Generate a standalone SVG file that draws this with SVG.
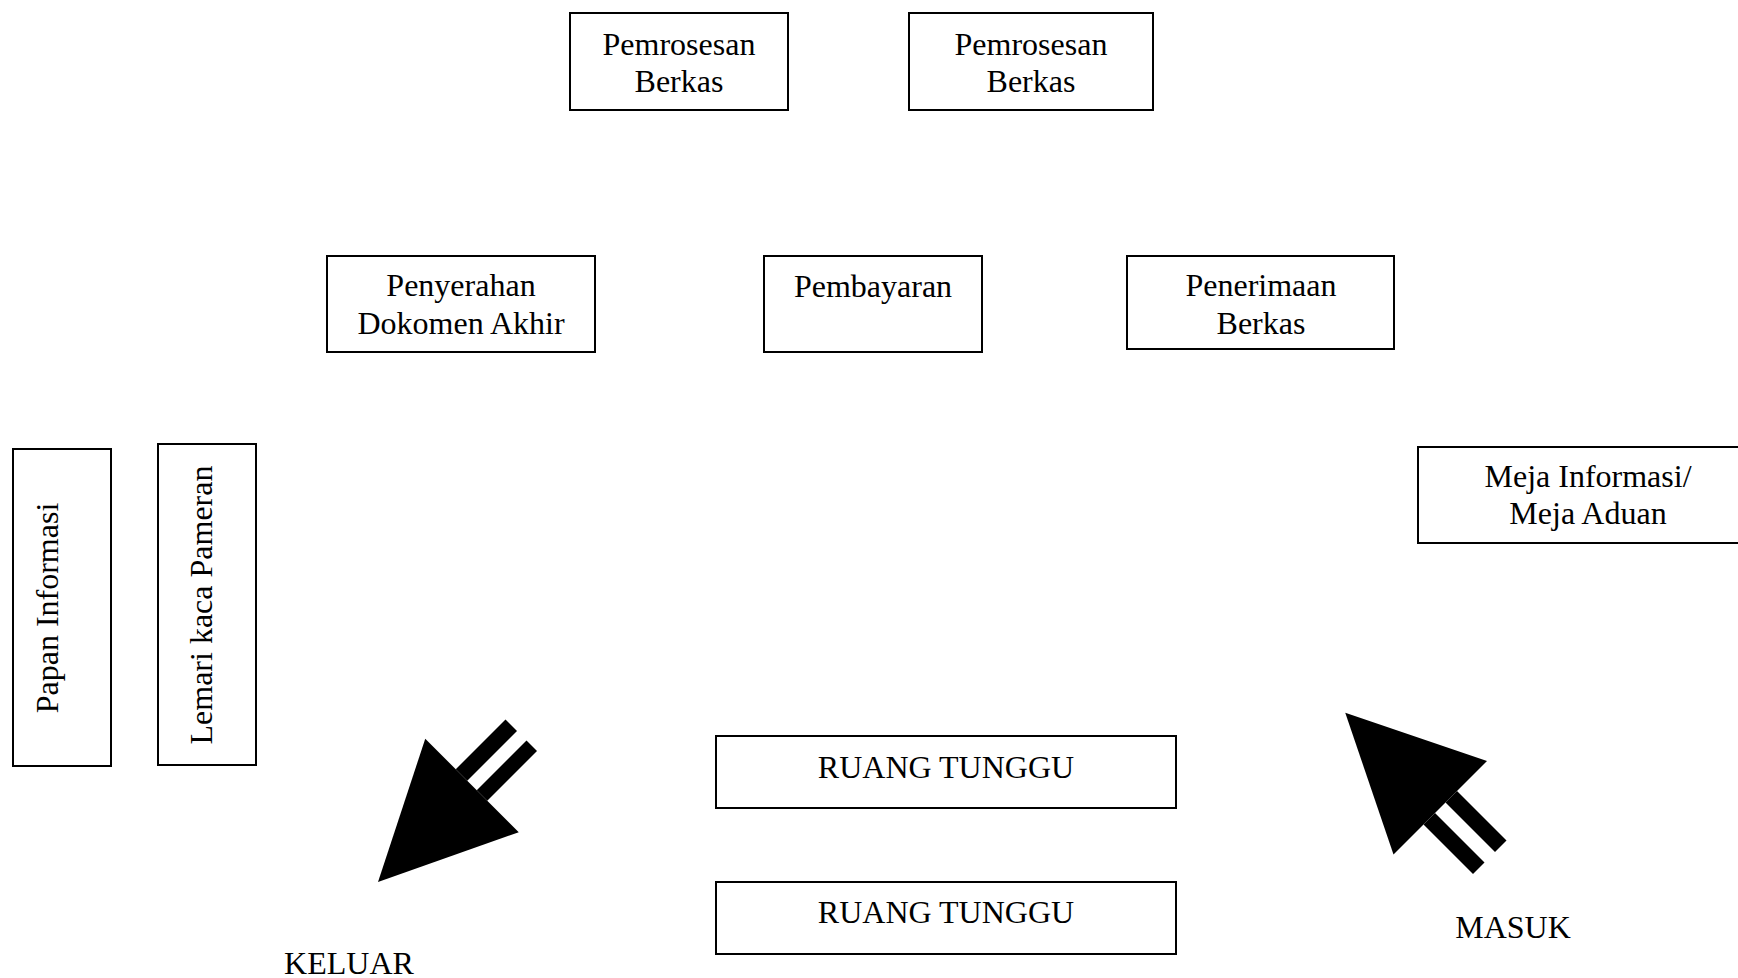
<svg xmlns="http://www.w3.org/2000/svg" width="1738" height="978" viewBox="0 0 1738 978">
<style>
.b{fill:#fff;stroke:#000;stroke-width:2}
.t{font-family:"Liberation Serif","Times New Roman",serif;font-size:32px;fill:#000;text-anchor:middle}
.a{fill:#000;stroke:none}
</style>
<rect width="1738" height="978" fill="#fff"/>
<g id="pemrosesan1"><rect class="b" x="570" y="13" width="218" height="97"/><text class="t" x="679" y="55">Pemrosesan</text><text class="t" x="679" y="92">Berkas</text></g>
<g id="pemrosesan2"><rect class="b" x="909" y="13" width="244" height="97"/><text class="t" x="1031" y="55">Pemrosesan</text><text class="t" x="1031" y="92">Berkas</text></g>
<g id="penyerahan"><rect class="b" x="327" y="256" width="268" height="96"/><text class="t" x="461" y="296">Penyerahan</text><text class="t" x="461" y="334">Dokomen Akhir</text></g>
<g id="pembayaran"><rect class="b" x="764" y="256" width="218" height="96"/><text class="t" x="873" y="297">Pembayaran</text></g>
<g id="penerimaan"><rect class="b" x="1127" y="256" width="267" height="93"/><text class="t" x="1261" y="296">Penerimaan</text><text class="t" x="1261" y="334">Berkas</text></g>
<g id="meja"><rect class="b" x="1418" y="447" width="330" height="96"/><text class="t" x="1588" y="487">Meja Informasi/</text><text class="t" x="1588" y="524">Meja Aduan</text></g>
<g id="papan"><rect class="b" x="13" y="449" width="98" height="317"/><text class="t" transform="translate(58,608) rotate(-90)">Papan Informasi</text></g>
<g id="lemari"><rect class="b" x="158" y="444" width="98" height="321"/><text class="t" transform="translate(212,605) rotate(-90)">Lemari kaca Pameran</text></g>
<g id="ruang1"><rect class="b" x="716" y="736" width="460" height="72"/><text class="t" x="946" y="778">RUANG TUNGGU</text></g>
<g id="ruang2"><rect class="b" x="716" y="882" width="460" height="72"/><text class="t" x="946" y="923">RUANG TUNGGU</text></g>
<g id="keluar">
<polygon class="a" points="378,882 425.25,738.75 518.75,832.25"/>
<polygon class="a" points="505.5,719.5 517,731 467.25,780.75 455.75,769.25"/>
<polygon class="a" points="526.5,740.5 537,751 487.25,800.75 476.75,790.25"/>
<text class="t" x="349" y="974">KELUAR</text>
</g>
<g id="masuk">
<polygon class="a" points="1345.25,712.75 1487,761 1393.5,854.5"/>
<polygon class="a" points="1457,791 1506.5,840.5 1495,852 1445.5,802.5"/>
<polygon class="a" points="1435,813 1484.5,862.5 1473,874 1423.5,824.5"/>
<text class="t" x="1513" y="938">MASUK</text>
</g>
<g id="connectors"></g>
</svg>
